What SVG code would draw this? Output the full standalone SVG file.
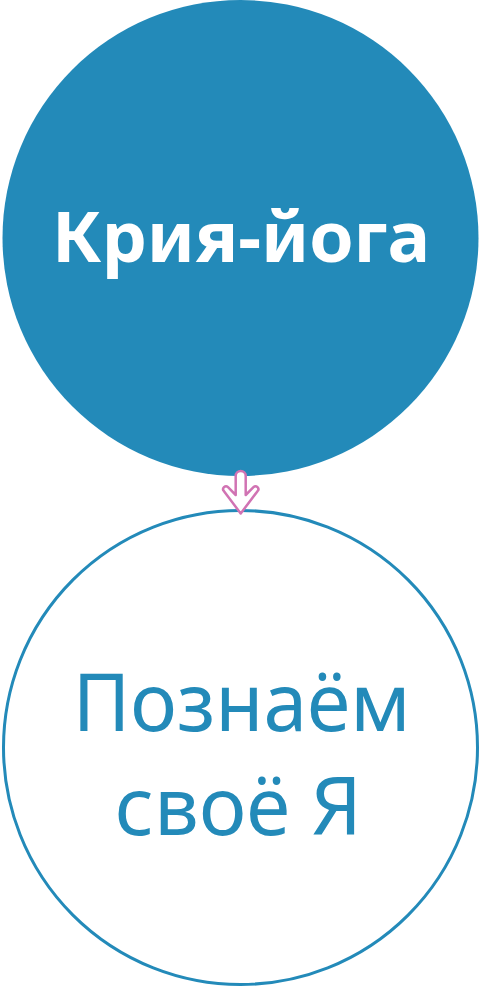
<svg xmlns="http://www.w3.org/2000/svg" width="481" height="988" viewBox="0 0 481 988">
<style>
.t{font-family:"Noto Sans","Open Sans","DejaVu Sans",sans-serif;text-anchor:middle}
.top{fill:#ffffff;font-weight:700;font-size:70px}
.bot{fill:#238ab9;font-weight:400;font-size:80px}
</style>
<rect width="481" height="988" fill="#ffffff"/>
<g id="node-kriya">
<circle cx="240.5" cy="238" r="238" fill="#238ab9"/>
<text class="t top" x="241" y="262" textLength="378" lengthAdjust="spacingAndGlyphs">Крия-йога</text>
</g>
<g id="node-poznaem">
<circle cx="240.5" cy="747.5" r="237" fill="#ffffff" stroke="#238ab9" stroke-width="3"/>
<text class="t bot" x="241.7" y="731" textLength="338" lengthAdjust="spacingAndGlyphs">Познаём</text>
<text class="t bot" x="238.3" y="835" textLength="247" lengthAdjust="spacingAndGlyphs">своё Я</text>
</g>
<g id="connectors">
<path d="M235.7,476 a5,5 0 0 1 10,0 L245.7,495 L253.5,487.2 a2.8,2.8 0 0 1 4,4 L240.7,513.5 L224,491.2 a2.8,2.8 0 0 1 4,-4 L235.7,495 Z" fill="#ffffff" stroke="#d173b3" stroke-width="2.5" stroke-linejoin="round"/>
</g>
</svg>
